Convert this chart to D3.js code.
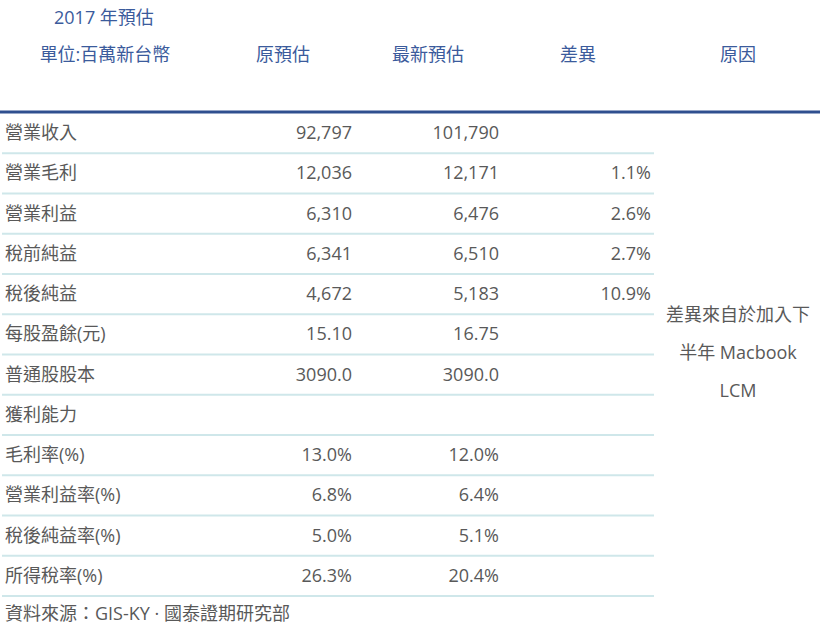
<!DOCTYPE html><html><head><meta charset="utf-8"><script src="https://d3js.org/d3.v7.min.js"></script>
<style>body{margin:0;background:#fff}</style></head><body><svg id="c" width="820" height="630"></svg>
<script>
const title="2017 年預估";
const headers=["單位:百萬新台幣","原預估","最新預估","差異","原因"];
const rowLabels=["營業收入","營業毛利","營業利益","稅前純益","稅後純益","每股盈餘(元)","普通股股本","獲利能力","毛利率(%)","營業利益率(%)","稅後純益率(%)","所得稅率(%)"];
const origEst=["92,797","12,036","6,310","6,341","4,672","15.10","3090.0","","13.0%","6.8%","5.0%","26.3%"];
const newEst=["101,790","12,171","6,476","6,510","5,183","16.75","3090.0","","12.0%","6.4%","5.1%","20.4%"];
const diff=["","1.1%","2.6%","2.7%","10.9%","","","","","","",""];
const reason=["差異來自於加入下","半年 Macbook","LCM"];
const source="資料來源：GIS-KY · 國泰證期研究部";

const svg=d3.select("#c");
const font="'Open Sans','Noto Sans CJK TC',sans-serif";
const grey="#595959", blue="#3b5b9c";
const fs=18;
const y=d3.scaleBand().domain(d3.range(rowLabels.length)).range([113,596]);
svg.append("text").attr("x",54).attr("y",24).attr("fill",blue).attr("font-size",fs).attr("font-family",font).text(title);
const hx=[105,283,428,578,738];
headers.forEach((h,i)=>svg.append("text").attr("x",hx[i]).attr("y",61).attr("text-anchor","middle").attr("fill",blue).attr("font-size",fs).attr("font-family",font).text(h));
svg.append("line").attr("x1",0).attr("x2",820).attr("y1",112).attr("y2",112).attr("stroke","#2f4f8f").attr("stroke-width",3);
const g=svg.selectAll("g.r").data(rowLabels).join("g").attr("transform",(d,i)=>`translate(0,${y(i)})`);
const bh=y.bandwidth();
g.append("line").attr("x1",2).attr("x2",654).attr("y1",bh).attr("y2",bh).attr("stroke","#cfe7ea").attr("stroke-width",2);
const cols=[{a:rowLabels,x:5,anc:"start"},{a:origEst,x:352,anc:"end"},{a:newEst,x:499,anc:"end"},{a:diff,x:651,anc:"end"}];
cols.forEach(c=>g.append("text").attr("x",c.x).attr("y",bh/2+6).attr("text-anchor",c.anc).attr("fill",grey).attr("font-size",fs).attr("font-family",font).text((d,i)=>c.a[i]));
reason.forEach((t,i)=>svg.append("text").attr("x",738).attr("y",321+i*38).attr("text-anchor","middle").attr("fill",grey).attr("font-size",fs).attr("font-family",font).text(t));
svg.append("text").attr("x",5).attr("y",620).attr("fill",grey).attr("font-size",fs).attr("font-family",font).text(source);
</script></body></html>
